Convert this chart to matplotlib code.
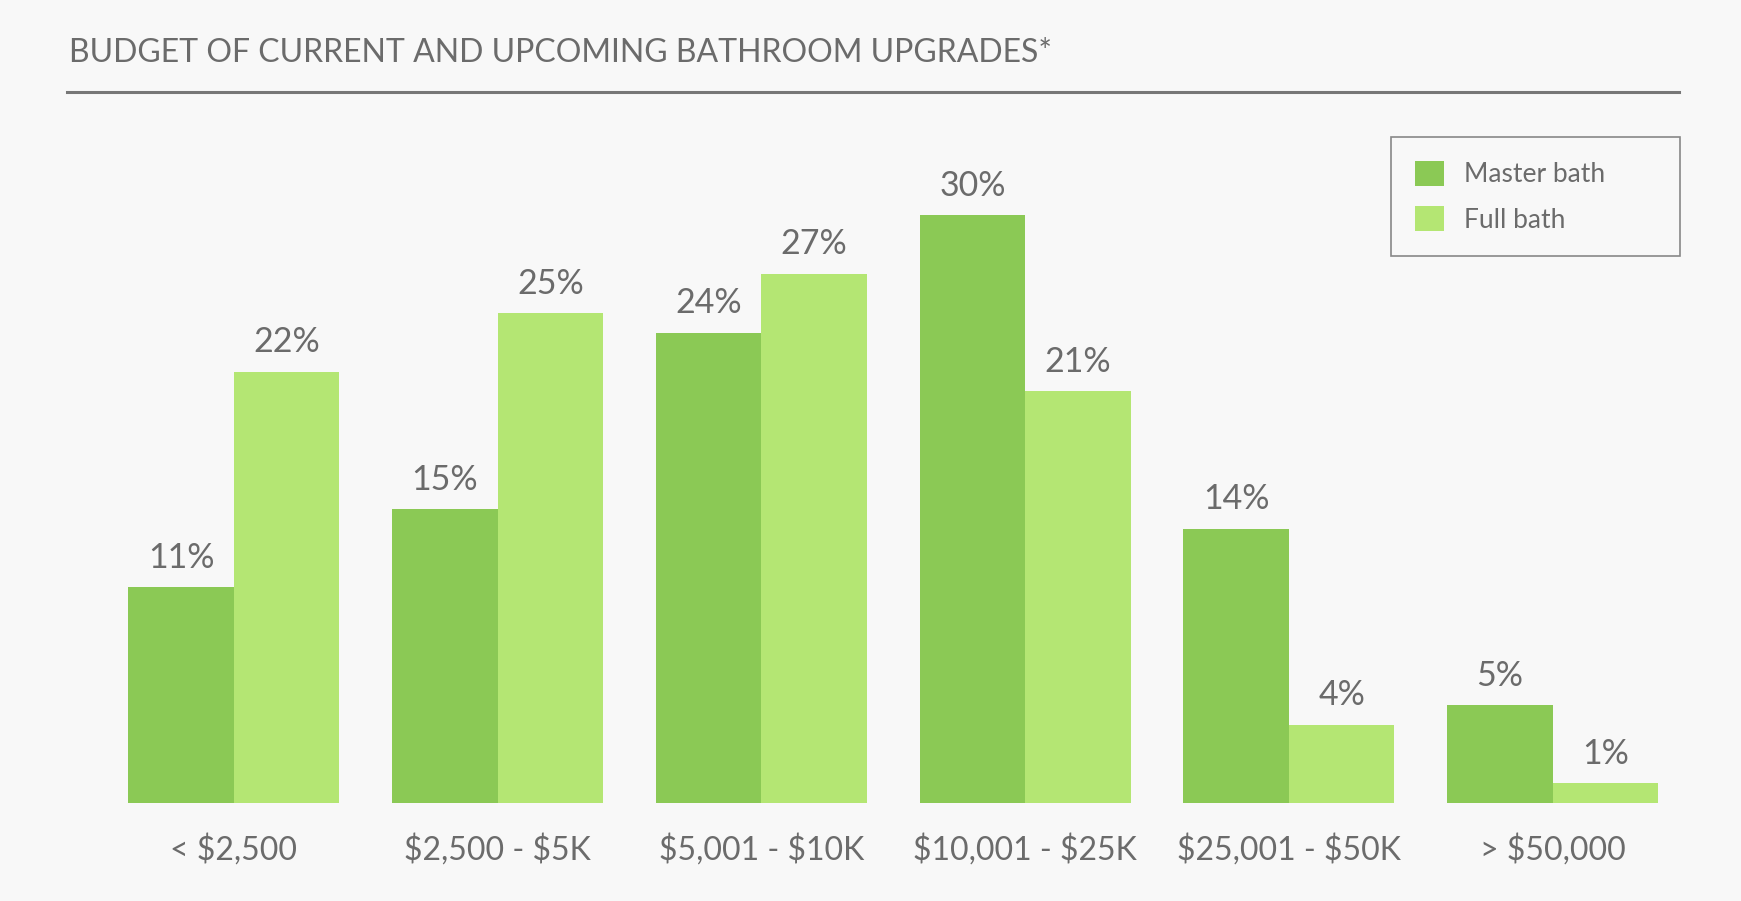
import matplotlib.pyplot as plt
from matplotlib.lines import Line2D
import numpy as np

# Budget brackets and share of respondents (%)
categories = ['< $2,500', '$2,500 - $5K', '$5,001 - $10K', '$10,001 - $25K', '$25,001 - $50K', '> $50,000']
master_bath = [11, 15, 24, 30, 14, 5]
full_bath = [22, 25, 27, 21, 4, 1]

bg = '#f8f8f8'
text_col = '#6b6b6b'
c_master = '#8bc955'
c_full = '#b4e673'

plt.rcParams['font.family'] = ['Lato', 'DejaVu Sans']
plt.rcParams['text.parse_math'] = False  # dollar signs are literal

W, H = 1741, 901
fig = plt.figure(figsize=(W / 100, H / 100), dpi=100, facecolor=bg)
ax = fig.add_axes([102 / W, (H - 803) / H, 1582.6 / W, 686 / H])
ax.set_facecolor(bg)

x = np.arange(len(categories))
w = 0.4
b1 = ax.bar(x - w / 2, master_bath, w, color=c_master, label='Master bath')
b2 = ax.bar(x + w / 2, full_bath, w, color=c_full, label='Full bath')

for bars, vals in ((b1, master_bath), (b2, full_bath)):
    for r, v in zip(bars, vals):
        ax.annotate(f'{v}%', (r.get_x() + r.get_width() / 2, v),
                    xytext=(0, 14), textcoords='offset points',
                    ha='center', va='baseline', fontsize=24.5,
                    color=text_col)

ax.set_xlim(-0.5, len(categories) - 0.5)
ax.set_ylim(0, 35)
ax.set_xticks(x)
ax.set_xticklabels(categories, fontsize=23, color=text_col)
ax.tick_params(axis='x', length=0, pad=22)
ax.set_yticks([])
for s in ax.spines.values():
    s.set_visible(False)

# Title and rule beneath it
fig.text(69 / W, 1 - 53 / H, 'BUDGET OF CURRENT AND UPCOMING BATHROOM UPGRADES*',
         fontsize=23, color=text_col, va='center', ha='left')
fig.add_artist(Line2D([67 / W, 1679 / W], [1 - 92 / H, 1 - 92 / H],
                      color='#777777', lw=2.2))

leg = fig.legend(handles=[b1, b2], loc='upper left',
                 bbox_to_anchor=(1391 / W, 1 - 255 / H, 289 / W, 118 / H),
                 mode='expand', borderaxespad=0, fancybox=False,
                 facecolor=bg, edgecolor='#888888', framealpha=1,
                 fontsize=19, handlelength=1.1, handleheight=1.1,
                 handletextpad=0.75, borderpad=0.9, labelspacing=0.7)
leg.get_frame().set_linewidth(1.2)
for t in leg.get_texts():
    t.set_color(text_col)

fig.savefig('out.png', dpi=100, facecolor=bg)
